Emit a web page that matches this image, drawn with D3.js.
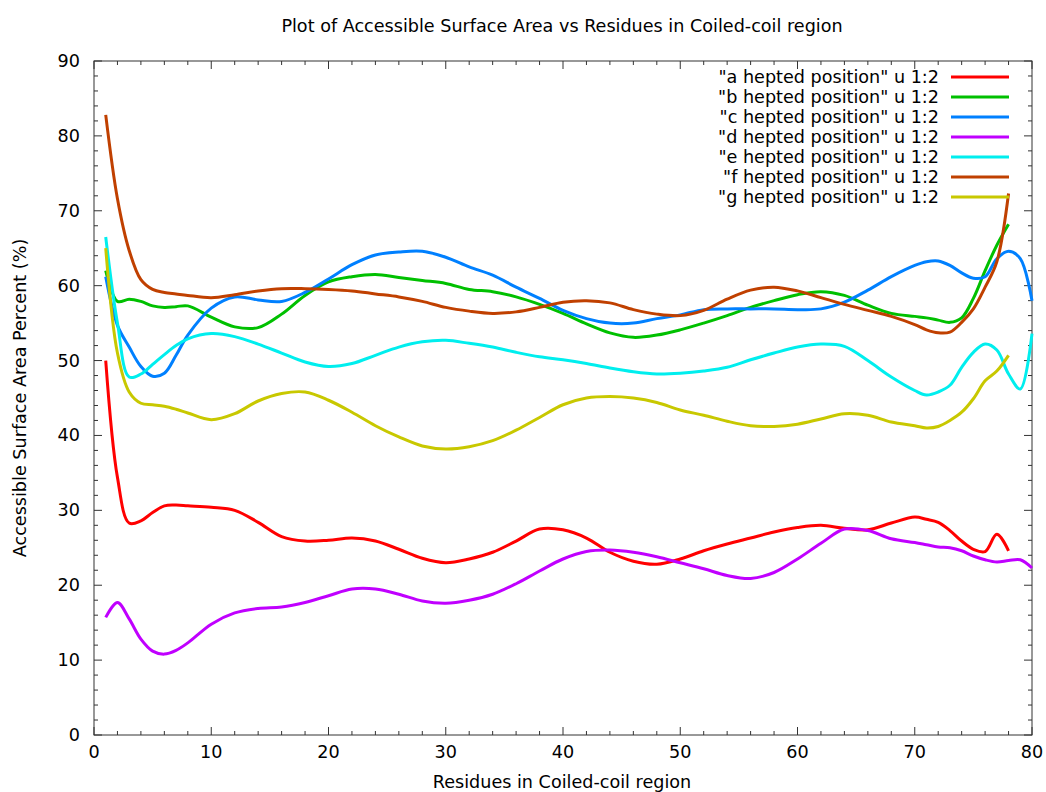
<!DOCTYPE html>
<html>
<head>
<meta charset="utf-8">
<script src="https://cdn.jsdelivr.net/npm/d3@7"></script>
<style>
  body { margin: 0; background: #fff; }
  svg { display: block; font-family: "DejaVu Sans", sans-serif; }
  .curve { fill: none; stroke-width: 3; stroke-linejoin: round; }
</style>
</head>
<body>
<svg id="chart" width="1046" height="792"></svg>
<script>
// residue numbers the values were read at
var residues = [1, 2, 3, 4, 5, 6, 7, 8, 10, 12, 14, 16, 18, 20, 22, 24, 26, 28, 30,
  32, 34, 36, 38, 40, 42, 44, 46, 48, 50, 52, 54, 56, 58, 60, 62, 64, 66, 68, 70,
  71, 72, 73, 74, 75, 76, 77, 78, 79, 80];

var posA = [50, 34.4, 28.3, 28.6, 29.7, 30.6, 30.7, 30.6, 30.4, 30.0, 28.4, 26.5, 25.9, 26.0, 26.3, 25.9, 24.8, 23.6, 23.0,
  23.5, 24.4, 25.9, 27.5, 27.4, 26.3, 24.4, 23.2, 22.8, 23.5, 24.6, 25.5, 26.3, 27.1, 27.7, 28.0, 27.6, 27.4, 28.3, 29.1,
  28.8, 28.4, 27.3, 25.9, 24.8, 24.5, 26.8, 24.6, null, null];
var posB = [62.0, 57.9, 58.2, 57.9, 57.3, 57.1, 57.2, 57.3, 55.8, 54.5, 54.4, 56.2, 58.7, 60.5, 61.2, 61.5, 61.1, 60.7, 60.3,
  59.5, 59.2, 58.5, 57.5, 56.3, 54.9, 53.7, 53.1, 53.4, 54.1, 55.0, 56.0, 57.1, 58.0, 58.8, 59.2, 58.7, 57.4, 56.3, 55.9,
  55.7, 55.4, 55.1, 55.7, 58.3, 62.0, 65.4, 68.2, null, null];
var posC = [61.2, 54.7, 51.8, 49.2, 47.9, 48.3, 50.7, 53.4, 57.0, 58.5, 58.1, 57.9, 59.1, 60.9, 62.8, 64.1, 64.5, 64.6, 63.8,
  62.5, 61.4, 59.8, 58.3, 56.7, 55.6, 55.0, 55.0, 55.6, 56.1, 56.8, 56.9, 56.9, 56.9, 56.8, 56.9, 57.8, 59.4, 61.2, 62.7,
  63.2, 63.3, 62.7, 61.7, 61.0, 61.2, 63.6, 64.6, 63.6, 58.0];
var posD = [15.7, 17.7, 15.5, 12.8, 11.2, 10.8, 11.3, 12.3, 14.8, 16.3, 16.9, 17.1, 17.7, 18.6, 19.5, 19.5, 18.8, 17.9, 17.6,
  18.0, 18.8, 20.2, 21.9, 23.5, 24.5, 24.7, 24.4, 23.8, 23.0, 22.2, 21.3, 20.9, 21.7, 23.5, 25.6, 27.5, 27.3, 26.2, 25.7,
  25.4, 25.1, 25.0, 24.6, 23.9, 23.4, 23.1, 23.3, 23.4, 22.3];
var posE = [66.5, 55.0, 47.8, 48.2, 49.5, 50.8, 52.0, 52.9, 53.6, 53.2, 52.2, 51.0, 49.8, 49.2, 49.6, 50.7, 51.8, 52.5, 52.7,
  52.3, 51.8, 51.1, 50.5, 50.1, 49.6, 49.0, 48.5, 48.2, 48.3, 48.6, 49.1, 50.1, 51.0, 51.8, 52.2, 51.9, 50.0, 47.8, 46.0,
  45.4, 45.8, 46.7, 49.1, 51.1, 52.2, 51.4, 48.2, 46.2, 53.6];
var posF = [82.8, 71.6, 64.7, 60.8, 59.5, 59.1, 58.9, 58.7, 58.4, 58.8, 59.3, 59.6, 59.6, 59.5, 59.3, 58.9, 58.5, 57.9, 57.1,
  56.6, 56.3, 56.5, 57.1, 57.8, 58.0, 57.7, 56.8, 56.2, 56.0, 56.7, 58.2, 59.4, 59.8, 59.3, 58.4, 57.5, 56.7, 55.9, 54.8,
  54.1, 53.7, 53.8, 55.1, 56.9, 59.8, 63.2, 72.3, null, null];
var posG = [65.0, 51.0, 45.8, 44.3, 44.1, 43.9, 43.5, 43.0, 42.1, 42.9, 44.6, 45.6, 45.8, 44.7, 43.1, 41.3, 39.8, 38.6, 38.2,
  38.5, 39.3, 40.7, 42.4, 44.1, 45.0, 45.2, 45.0, 44.4, 43.4, 42.7, 41.9, 41.3, 41.2, 41.5, 42.2, 42.9, 42.7, 41.8, 41.3,
  41.0, 41.2, 42.0, 43.1, 44.9, 47.3, 48.6, 50.7, null, null];

var seriesNames = ['"a hepted position" u 1:2', '"b hepted position" u 1:2', '"c hepted position" u 1:2',
  '"d hepted position" u 1:2', '"e hepted position" u 1:2', '"f hepted position" u 1:2', '"g hepted position" u 1:2'];
var seriesValues = [posA, posB, posC, posD, posE, posF, posG];
var colors = ["#ff0000", "#00c000", "#0080ff", "#c000ff", "#00eeee", "#c04000", "#c8c800"];

var svg = d3.select("#chart");

var plotLeft = 94, plotRight = 1032, plotTop = 61, plotBottom = 735;
var fontSize = 17.6;

var x = d3.scaleLinear().domain([0, 80]).range([plotLeft, plotRight]);
var y = d3.scaleLinear().domain([0, 90]).range([plotBottom, plotTop]);

// frame
svg.append("rect")
    .attr("x", plotLeft).attr("y", plotTop)
    .attr("width", plotRight - plotLeft).attr("height", plotBottom - plotTop)
    .attr("fill", "none").attr("stroke", "#333").attr("stroke-width", 1);

// ticks on all four sides, pointing inward
function tickMarks(xs, ys, len) {
  var g = svg.append("g").attr("stroke", "#333").attr("stroke-width", 1);
  xs.forEach(function(v) {
    g.append("line").attr("x1", x(v)).attr("x2", x(v)).attr("y1", plotBottom).attr("y2", plotBottom - len);
    g.append("line").attr("x1", x(v)).attr("x2", x(v)).attr("y1", plotTop).attr("y2", plotTop + len);
  });
  ys.forEach(function(v) {
    g.append("line").attr("y1", y(v)).attr("y2", y(v)).attr("x1", plotLeft).attr("x2", plotLeft + len);
    g.append("line").attr("y1", y(v)).attr("y2", y(v)).attr("x1", plotRight).attr("x2", plotRight - len);
  });
}
function notMajor(v) { return v % 10 !== 0; }
tickMarks(x.ticks(8), y.ticks(9), 8);
tickMarks(d3.range(0, 81, 2).filter(notMajor), d3.range(0, 91, 2).filter(notMajor), 4);

// tick labels
svg.append("g").selectAll("text")
    .data(x.ticks(8))
  .enter().append("text")
    .attr("x", function(d) { return x(d); })
    .attr("y", 758)
    .attr("text-anchor", "middle")
    .attr("font-size", fontSize)
    .text(function(d) { return d; });

svg.append("g").selectAll("text")
    .data(y.ticks(9))
  .enter().append("text")
    .attr("x", 80)
    .attr("y", function(d) { return y(d) + 6; })
    .attr("text-anchor", "end")
    .attr("font-size", fontSize)
    .text(function(d) { return d; });

// titles
svg.append("text")
    .attr("x", 562).attr("y", 32)
    .attr("text-anchor", "middle").attr("font-size", fontSize)
    .text("Plot of Accessible Surface Area vs Residues in Coiled-coil region");

svg.append("text")
    .attr("x", 562).attr("y", 788)
    .attr("text-anchor", "middle").attr("font-size", fontSize)
    .text("Residues in Coiled-coil region");

svg.append("text")
    .attr("transform", "translate(26," + (plotTop + plotBottom) / 2 + ") rotate(-90)")
    .attr("text-anchor", "middle").attr("font-size", fontSize)
    .text("Accessible Surface Area Percent (%)");

var line = d3.line()
    .defined(function(d) { return d[1] != null; })
    .x(function(d) { return x(d[0]); })
    .y(function(d) { return y(d[1]); })
    .curve(d3.curveCatmullRom.alpha(0.5));

seriesValues.forEach(function(vals, i) {
  // legend entry
  var ly = 77 + i * 20;
  svg.append("text")
      .attr("x", 939).attr("y", ly + 6)
      .attr("text-anchor", "end").attr("font-size", fontSize)
      .text(seriesNames[i]);
  svg.append("line")
      .attr("x1", 951).attr("x2", 1009).attr("y1", ly).attr("y2", ly)
      .attr("stroke", colors[i]).attr("stroke-width", 3);

  svg.append("path")
      .datum(residues.map(function(r, j) { return [r, vals[j]]; }))
      .attr("class", "curve")
      .attr("stroke", colors[i])
      .attr("d", line);
});
</script>
</body>
</html>
